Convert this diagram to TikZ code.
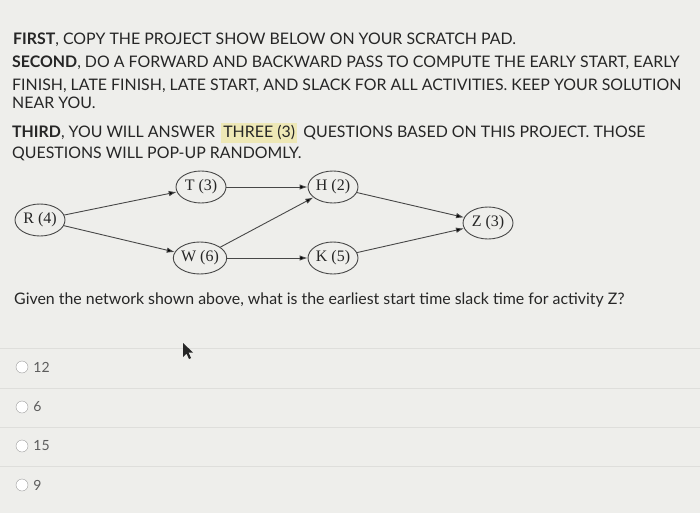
\documentclass[tikz,border=0pt]{standalone}
\usepackage{fontspec}
\setmainfont{Lato}
\newfontfamily\graphfont{Liberation Serif}
\usetikzlibrary{shapes.geometric,positioning,arrows.meta}
\definecolor{screen}{RGB}{238,238,235}
\definecolor{ink}{RGB}{38,38,38}
\definecolor{marker}{RGB}{238,232,182}
\definecolor{rulegray}{RGB}{222,222,219}
\begin{document}
\begin{tikzpicture}[x=1pt,y=-1pt,>={Latex[length=8pt,width=5.5pt]}]
        \tikzstyle{activity}=[ellipse,draw=ink!85,line width=0.9pt,minimum width=50pt,minimum height=32pt,inner sep=0pt,text=ink,font=\graphfont\fontsize{16}{16}\selectfont]
        \tikzstyle{edge}=[draw=ink!85,line width=0.9pt,->]
        \tikzstyle{line}=[anchor=base west,inner sep=0pt,text=ink,font=\fontsize{15.9}{18}\selectfont]
        \tikzstyle{choice}=[anchor=west,inner sep=0pt,text=ink!75,font=\fontsize{14}{16}\selectfont]
        \tikzstyle{radio}=[circle,draw=ink!45,fill=white,minimum size=12pt,inner sep=0pt]
        \useasboundingbox (0,0) rectangle (700,513);
        \fill[screen] (0,0) rectangle (700,513);
       \begin{scope}
         \node [line] (l1) at (13,45) {\textbf{FIRST}, COPY THE PROJECT SHOW BELOW ON YOUR SCRATCH PAD.};
         \node [line] (l2) at (12,68) {\textbf{SECOND}, DO A FORWARD AND BACKWARD PASS TO COMPUTE THE EARLY START, EARLY};
         \node [line] (l3) at (12,91) {FINISH, LATE FINISH, LATE START, AND SLACK FOR ALL ACTIVITIES. KEEP YOUR SOLUTION};
         \node [line] (l4) at (12,109) {NEAR YOU.};
         \node [line] (l5) at (12,138) {\textbf{THIRD}, YOU WILL ANSWER};
         \node [line,fill=marker,inner xsep=2pt,inner ysep=3pt] (three) at ([xshift=6pt]l5.base east) {THREE (3)};
         \node [line] (l5b) at ([xshift=6pt]three.base east) {QUESTIONS BASED ON THIS PROJECT. THOSE};
         \node [line] (l6) at (12,158) {QUESTIONS WILL POP-UP RANDOMLY.};
       \end{scope}
       \begin{scope}
         \node [activity] (R) at (40,220) {R (4)};
         \node [activity] (T) at (201,187) {T (3)};
         \node [activity] (W) at (200,258) {W (6)};
         \node [activity] (H) at (333,187) {H (2)};
         \node [activity] (K) at (333,258) {K (5)};
         \node [activity] (Z) at (488,223) {Z (3)};

         \path[edge] (R) edge (T);
         \path[edge] (R) edge (W);
         \path[edge] (T) edge (H);
         \path[edge] (W) edge (H);
         \path[edge] (W) edge (K);
         \path[edge] (H) edge (Z);
         \path[edge] (K) edge (Z);
       \end{scope}
       \node [line,anchor=west] (question) at (14,300) {Given the network shown above, what is the earliest start time slack time for activity Z?};
       \foreach \y in {348,388,427,466}
         \draw[rulegray,thick] (0,\y) -- (700,\y);
       \fill[ink] (183,343) -- (183,357) -- (186.5,353.5) -- (189,359) -- (191,358) -- (188.5,352.5) -- (193,352.5) -- cycle;
       \foreach \y/\v [count=\i] in {367/12,407/6,446/15,485/9} {
         \node [radio] (r\i) at (22,\y) {};
         \node [choice,right=5pt of r\i] (c\i) {\v};
       }
      \end{tikzpicture}
\end{document}
